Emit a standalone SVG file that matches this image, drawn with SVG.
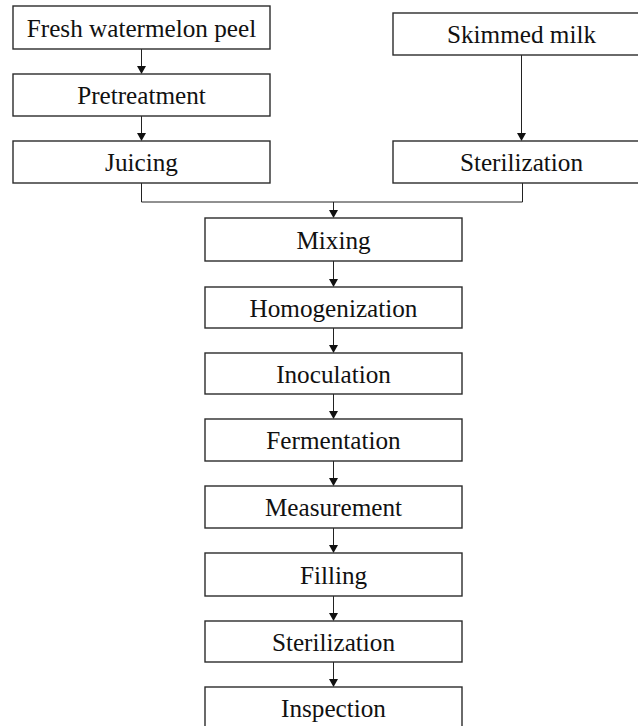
<svg xmlns="http://www.w3.org/2000/svg" width="638" height="726" viewBox="0 0 638 726">
<defs>
<style>
.box{fill:#fff;stroke:#2b2b2b;stroke-width:1.4}
.lbl{font-family:"Liberation Serif","Times New Roman",serif;font-size:25.2px;fill:#111;text-anchor:middle}
.ln{fill:none;stroke:#222;stroke-width:1}
</style>
<marker id="ah" markerWidth="8" markerHeight="9" refX="7" refY="4.5" orient="auto" markerUnits="userSpaceOnUse">
<path d="M0,0 L8,4.5 L0,9 z" fill="#111"/>
</marker>
</defs>
<rect width="638" height="726" fill="#fff"/>
<g id="connectors">
<line class="ln" x1="141.5" y1="49" x2="141.5" y2="73" marker-end="url(#ah)"/>
<line class="ln" x1="141.5" y1="116" x2="141.5" y2="140" marker-end="url(#ah)"/>
<line class="ln" x1="521.5" y1="55" x2="521.5" y2="140" marker-end="url(#ah)"/>
<polyline class="ln" points="141.5,183 141.5,202 522.5,202 522.5,183" stroke="#555"/>
<line class="ln" x1="333.5" y1="202" x2="333.5" y2="217" marker-end="url(#ah)"/>
<line class="ln" x1="333.5" y1="261" x2="333.5" y2="286" marker-end="url(#ah)"/>
<line class="ln" x1="333.5" y1="328" x2="333.5" y2="352" marker-end="url(#ah)"/>
<line class="ln" x1="333.5" y1="394" x2="333.5" y2="418" marker-end="url(#ah)"/>
<line class="ln" x1="333.5" y1="461" x2="333.5" y2="485" marker-end="url(#ah)"/>
<line class="ln" x1="333.5" y1="528" x2="333.5" y2="552" marker-end="url(#ah)"/>
<line class="ln" x1="333.5" y1="596" x2="333.5" y2="620" marker-end="url(#ah)"/>
<line class="ln" x1="333.5" y1="662" x2="333.5" y2="686" marker-end="url(#ah)"/>
</g>
<g id="fresh"><rect class="box" x="13" y="6" width="257" height="43"/><text class="lbl" x="141.5" y="36.5">Fresh watermelon peel</text></g>
<g id="pretreatment"><rect class="box" x="13" y="74" width="257" height="42"/><text class="lbl" x="141.5" y="104">Pretreatment</text></g>
<g id="juicing"><rect class="box" x="13" y="141" width="257" height="42"/><text class="lbl" x="141.5" y="171">Juicing</text></g>
<g id="skimmed"><rect class="box" x="393" y="13" width="257" height="42"/><text class="lbl" x="521.5" y="43">Skimmed milk</text></g>
<g id="sterilization1"><rect class="box" x="393" y="141" width="257" height="42"/><text class="lbl" x="521.5" y="171">Sterilization</text></g>
<g id="mixing"><rect class="box" x="205" y="218" width="257" height="43"/><text class="lbl" x="333.5" y="248.5">Mixing</text></g>
<g id="homogenization"><rect class="box" x="205" y="287" width="257" height="41"/><text class="lbl" x="333.5" y="316.5">Homogenization</text></g>
<g id="inoculation"><rect class="box" x="205" y="353" width="257" height="41"/><text class="lbl" x="333.5" y="382.5">Inoculation</text></g>
<g id="fermentation"><rect class="box" x="205" y="419" width="257" height="42"/><text class="lbl" x="333.5" y="449">Fermentation</text></g>
<g id="measurement"><rect class="box" x="205" y="486" width="257" height="42"/><text class="lbl" x="333.5" y="516">Measurement</text></g>
<g id="filling"><rect class="box" x="205" y="553" width="257" height="43"/><text class="lbl" x="333.5" y="583.5">Filling</text></g>
<g id="sterilization2"><rect class="box" x="205" y="621" width="257" height="41"/><text class="lbl" x="333.5" y="650.5">Sterilization</text></g>
<g id="inspection"><rect class="box" x="205" y="687" width="257" height="45"/><text class="lbl" x="333.5" y="717">Inspection</text></g>
</svg>
